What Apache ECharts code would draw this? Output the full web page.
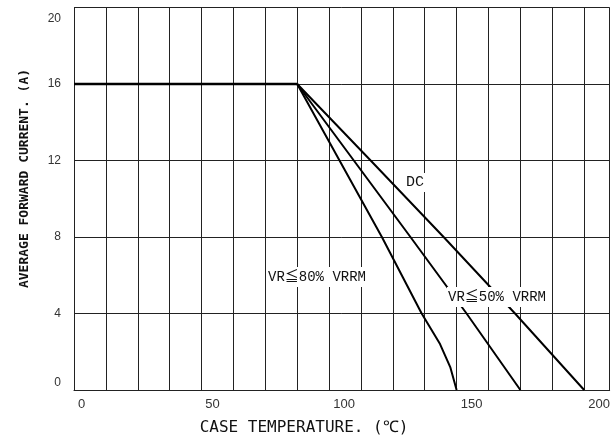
<!DOCTYPE html>
<html>
<head>
<meta charset="utf-8">
<script src="https://cdn.jsdelivr.net/npm/echarts@6/dist/echarts.min.js"></script>
<style>
html,body{margin:0;padding:0;background:#fff;}
#main{width:613px;height:439px;}
</style>
</head>
<body>
<div id="main"></div>
<script>
// ---- data ----
const xMin = 0, xMax = 210, xStep = 12.5;
const yMin = 0, yMax = 20, yStep = 4;
const xTickLabels = [0, 50, 100, 150, 200];

const tempFlat = [0, 87.5];
const currFlat = [16, 16];

const temp80 = [87.5, 120.7, 136.3, 143.5, 147.5, 150];
const curr80 = [16, 8, 4, 2.4, 1.2, 0];

const temp50 = [87.5, 131.9, 153.9, 175];
const curr50 = [16, 8, 4, 0];

const tempDC = [87.5, 116.3, 144.9, 172.9, 200];
const currDC = [16, 12, 8, 4, 0];

const xTitle = 'CASE TEMPERATURE. (℃)';
const yTitle = 'AVERAGE FORWARD CURRENT. (A)';
const note80 = 'VR≦80% VRRM';
const note50 = 'VR≦50% VRRM';
const noteDC = 'DC';

function pairs(xs, ys) { return xs.map((x, i) => [x, ys[i]]); }

const chart = echarts.init(document.getElementById('main'), null, {renderer: 'canvas'});
const lineStyle = {color: '#000', width: 2, join: 'round'};
const xOffsets = {0: 15, 50: 22, 100: 30, 150: 30, 200: 30};

chart.setOption({
  animation: false,
  backgroundColor: '#fff',
  grid: {left: 74, right: 0, top: 7.5, bottom: 49, containLabel: false},
  xAxis: {
    type: 'value', min: xMin, max: xMax, interval: xStep,
    axisLine: {show: true, lineStyle: {color: '#222', width: 1}},
    axisTick: {show: false},
    splitLine: {show: true, lineStyle: {color: '#222', width: 1}},
    axisLabel: {
      margin: 8, showMaxLabel: false,
      fontFamily: 'Liberation Sans', fontSize: 13, color: '#333',
      formatter: v => xTickLabels.includes(v) ? '{o' + v + '|' + v + '}' : '',
      rich: Object.fromEntries(xTickLabels.map(v => ['o' + v, {padding: [0, 0, 0, xOffsets[v]], fontFamily: 'Liberation Sans', fontSize: 13, color: '#333'}]))
    }
  },
  yAxis: {
    type: 'value', min: yMin, max: yMax, interval: yStep,
    axisLine: {show: true, lineStyle: {color: '#222', width: 1}},
    axisTick: {show: false},
    splitLine: {show: true, lineStyle: {color: '#222', width: 1}},
    axisLabel: {
      margin: 13, fontFamily: 'Liberation Sans', fontSize: 12, color: '#333',
      formatter: v => v === yMax ? '{t|' + v + '}' : (v === yMin ? '{b|' + v + '}' : '{n|' + v + '}'),
      rich: {
        t: {padding: [23, 0, 0, 0], fontFamily: 'Liberation Sans', fontSize: 12, color: '#333'},
        b: {padding: [0, 0, 14, 0], fontFamily: 'Liberation Sans', fontSize: 12, color: '#333'},
        n: {fontFamily: 'Liberation Sans', fontSize: 12, color: '#333'}
      }
    }
  },
  series: [
    {name: 'flat', type: 'line', data: pairs(tempFlat, currFlat), showSymbol: false, lineStyle: {color: '#000', width: 2.5}, z: 5},
    {name: note80, type: 'line', data: pairs(temp80, curr80), showSymbol: false, lineStyle: lineStyle, z: 5},
    {name: note50, type: 'line', data: pairs(temp50, curr50), showSymbol: false, lineStyle: lineStyle, z: 5},
    {name: noteDC, type: 'line', data: pairs(tempDC, currDC), showSymbol: false, lineStyle: lineStyle, z: 5}
  ],
  graphic: [
    {type: 'text', x: 304, y: 428, z: 100, style: {text: xTitle, fontFamily: 'DejaVu Sans Mono', fontSize: 16, fill: '#111', align: 'center', verticalAlign: 'middle'}},
    {type: 'text', x: 25, y: 178.5, rotation: Math.PI / 2, z: 100, style: {text: yTitle, fontFamily: 'DejaVu Sans Mono', fontWeight: 'bold', fontSize: 13, fill: '#111', align: 'center', verticalAlign: 'middle'}},
    {type: 'text', x: 415, y: 182.5, z: 100, style: {text: noteDC, fontFamily: 'Liberation Mono', fontSize: 15, fill: '#111', align: 'center', verticalAlign: 'middle', backgroundColor: '#fff', padding: [2, 1]}},
    {type: 'text', x: 317, y: 277, z: 100, style: {text: note80, fontFamily: 'Liberation Mono, Noto Sans CJK JP', fontSize: 14, fill: '#111', align: 'center', verticalAlign: 'middle', backgroundColor: '#fff', padding: [3, 1]}},
    {type: 'text', x: 497, y: 297, z: 100, style: {text: note50, fontFamily: 'Liberation Mono, Noto Sans CJK JP', fontSize: 14, fill: '#111', align: 'center', verticalAlign: 'middle', backgroundColor: '#fff', padding: [3, 1]}}
  ]
});
</script>
</body>
</html>
